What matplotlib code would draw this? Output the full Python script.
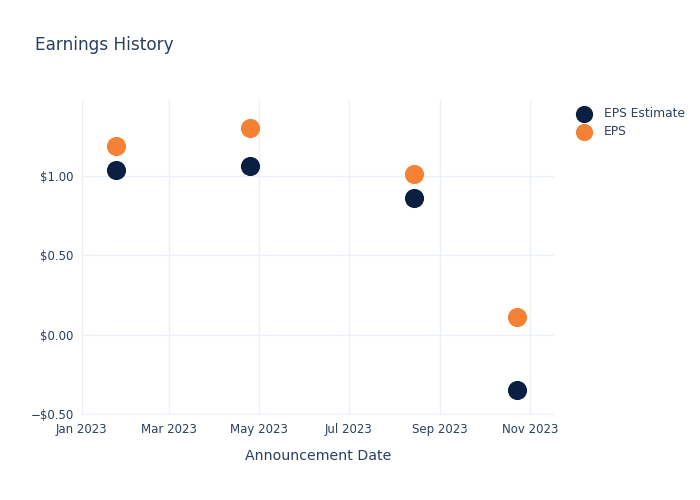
import matplotlib
matplotlib.use('Agg')
from matplotlib import pyplot as plt
import matplotlib.dates as mdates
import matplotlib.ticker as mticker
import pandas as pd

plt.rcParams['font.family'] = ['DejaVu Sans']

# data
dates = pd.to_datetime(['2023-01-24', '2023-04-25', '2023-08-14', '2023-10-23'])
eps_estimate = [1.04, 1.06, 0.86, -0.35]
eps_actual = [1.19, 1.30, 1.01, 0.11]
xticks = pd.to_datetime(['2023-01-01', '2023-03-01', '2023-05-01',
                         '2023-07-01', '2023-09-01', '2023-11-01'])
yticks = [-0.5, 0.0, 0.5, 1.0]

text_col = '#2a3f5f'
grid_col = '#ebf0f8'

fig = plt.figure(figsize=(7, 5), dpi=100)
ax = fig.add_axes([0.117, 0.17, 0.674, 0.63])

ax.scatter(dates, eps_estimate, s=190, color='#0b1f42', label='EPS Estimate', zorder=3, linewidths=0)
ax.scatter(dates, eps_actual, s=190, color='#f58134', label='EPS', zorder=3, linewidths=0)

ax.set_xlim(pd.Timestamp('2023-01-01'), pd.Timestamp('2023-11-17'))
ax.set_ylim(-0.505, 1.478)
ax.set_xticks(xticks)
ax.xaxis.set_major_formatter(mdates.DateFormatter('%b %Y'))
ax.set_yticks(yticks)
ax.yaxis.set_major_formatter(mticker.FuncFormatter(
    lambda v, p: ('\u2212$%.2f' % abs(v)) if v < 0 else '$%.2f' % v))

ax.grid(True, color=grid_col, linewidth=1)
ax.set_axisbelow(True)
for s in ax.spines.values():
    s.set_visible(False)
ax.tick_params(length=0, labelsize=8.5, colors=text_col, pad=6)
ax.set_xlabel('Announcement Date', fontsize=10.2, color=text_col, labelpad=9)

fig.text(0.05, 0.91, 'Earnings History', fontsize=12.2, color=text_col, va='center')

leg = ax.legend(loc='upper left', bbox_to_anchor=(1.014, 1.013), frameon=False,
                fontsize=8.8, labelcolor=text_col, handletextpad=0.65,
                labelspacing=0.45, markerscale=0.9)

fig.savefig('out.png', dpi=100, facecolor='white')
